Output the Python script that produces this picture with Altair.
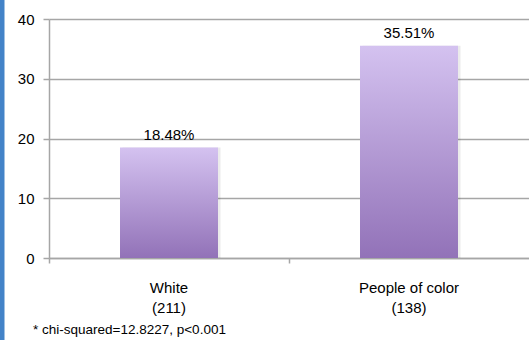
import altair as alt
import pandas as pd

categories = ["White", "People of color"]
counts = [211, 138]
percents = [18.48, 35.51]
footnote = "* chi-squared=12.8227, p<0.001"

df = pd.DataFrame({
    "label": [f"{c}|({n})" for c, n in zip(categories, counts)],
    "pct": percents,
})
df["txt"] = [f"{p:.2f}%" for p in percents]
order = list(df["label"])

FONT = "Liberation Sans"
GRID = "#a6a6a6"

x = alt.X(
    "label:N", sort=order, title=None,
    scale=alt.Scale(paddingInner=0, paddingOuter=0),
    axis=alt.Axis(
        labelAngle=0, labelExpr="split(datum.label, '|')", bandPosition=0,
        tickSize=5, tickColor=GRID, tickWidth=1.5, domainColor=GRID, domainWidth=1.5,
        labelFont=FONT, labelFontSize=15, labelColor="black", labelPadding=17,
        labelLineHeight=20, grid=False,
    ),
)
y = alt.Y(
    "pct:Q", title=None,
    scale=alt.Scale(domain=[0, 40], nice=False),
    axis=alt.Axis(
        values=[0, 10, 20, 30, 40], grid=True, gridColor=GRID, gridWidth=1.5,
        tickSize=6, tickColor=GRID, tickWidth=1.5, domainColor=GRID, domainWidth=1.5,
        labelFont=FONT, labelFontSize=15, labelColor="black", labelPadding=9,
    ),
)

base = alt.Chart(df)
bw = alt.RelativeBandSize(98 / 240)

shadow = base.mark_bar(width=bw, color="#000000", opacity=0.08, xOffset=2.5).encode(x=x, y=y)
bars = base.mark_bar(
    width=bw,
    color=alt.Gradient(
        gradient="linear", x1=0, x2=0, y1=0, y2=1,
        stops=[alt.GradientStop(offset=0, color="#d4c2f0"),
               alt.GradientStop(offset=1, color="#9272b8")],
    ),
).encode(x=x, y=y)
text = base.mark_text(
    baseline="alphabetic", dy=-8, font=FONT, fontSize=15, color="black"
).encode(x=x, y=y, text="txt:N")

strip = alt.Chart(pd.DataFrame({"k": [0]})).mark_rect(color="#4383c8").encode(
    x=alt.value(-49), x2=alt.value(-44.5), y=alt.value(-19), y2=alt.value(321)
)

chart = alt.layer(shadow, bars, text, strip).properties(
    width=480, height=239,
    autosize=alt.AutoSizeParams(type="none"),
    padding={"left": 49, "top": 19, "right": 0, "bottom": 82},
    background="white",
    title=alt.TitleParams(
        text=footnote, orient="bottom", anchor="start", frame="group", dx=-16,
        offset=-17, font=FONT, fontSize=13.5, fontWeight="normal", color="black",
    ),
).configure_view(stroke=None)

chart.save("out.html", embed_options={"renderer": "svg", "actions": False})
